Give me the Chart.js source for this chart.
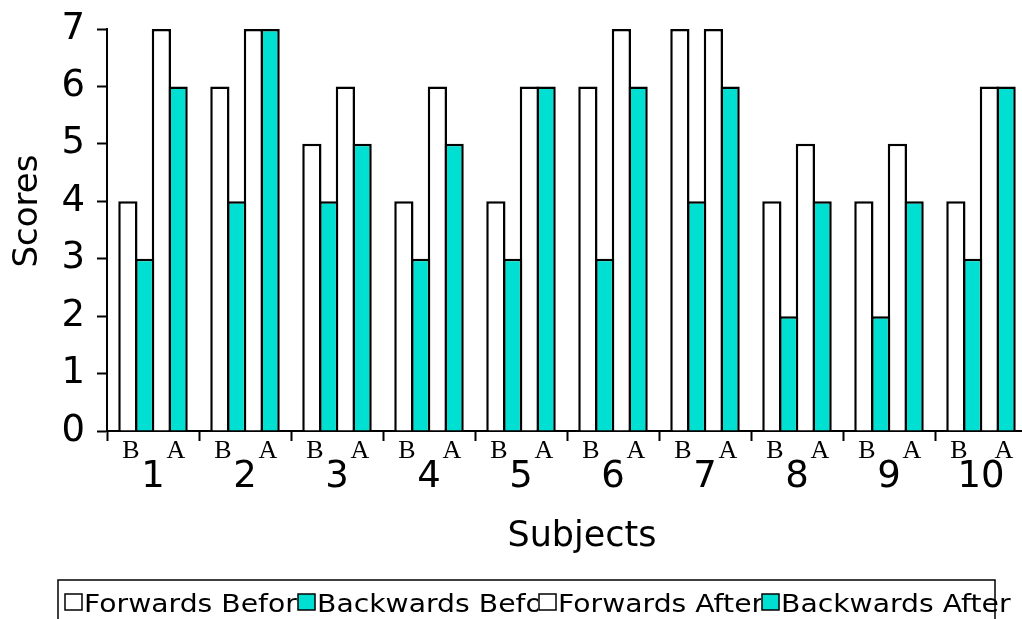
<!DOCTYPE html>
<html>
<head>
<meta charset="utf-8">
<script src="https://cdn.jsdelivr.net/npm/chart.js@4"></script>
<style>
  html, body { margin: 0; padding: 0; background: #fff; overflow: hidden; }
  #wrap { width: 1060px; height: 619px; }
</style>
</head>
<body>
<div id="wrap"><canvas id="scores" width="1060" height="619"></canvas></div>
<script>
// Digit-span scores per subject, before and after training
const subjects = ['1', '2', '3', '4', '5', '6', '7', '8', '9', '10'];
const forwardsBefore  = [4, 6, 5, 4, 4, 6, 7, 4, 4, 4];
const backwardsBefore = [3, 4, 4, 3, 3, 3, 4, 2, 2, 3];
const forwardsAfter   = [7, 7, 6, 6, 6, 7, 7, 5, 5, 6];
const backwardsAfter  = [6, 7, 5, 5, 6, 6, 6, 4, 4, 6];
const seriesNames = ['Forwards Before', 'Backwards Before', 'Forwards After', 'Backwards After'];
const phaseLabels = ['B', 'A'];
const scoreTicks = [0, 1, 2, 3, 4, 5, 6, 7];
const xTitle = 'Subjects';
const yTitle = 'Scores';

const TEAL = '#00e0d2';
const SANS = '"DejaVu Sans", "Noto Sans", sans-serif';
const SERIF = '"Liberation Serif", "DejaVu Serif", serif';

function series(label, data, fill) {
  return {
    label, data,
    backgroundColor: fill,
    borderColor: '#000',
    borderWidth: 2.5,
    borderSkipped: 'start',
    categoryPercentage: 0.728,
    barPercentage: 1.15
  };
}

// B / A markers under each subject, plus the two axis titles
const axisText = {
  id: 'axisText',
  afterDraw(chart) {
    const ctx = chart.ctx, x = chart.scales.x;
    ctx.save();
    ctx.fillStyle = '#000';
    ctx.textAlign = 'center';
    ctx.textBaseline = 'middle';
    ctx.font = '26px ' + SERIF;
    subjects.forEach((s, i) => {
      const cx = x.getPixelForValue(i);
      ctx.fillText(phaseLabels[0], cx - 22, x.top + 20);
      ctx.fillText(phaseLabels[1], cx + 23, x.top + 20);
    });
    ctx.font = '35px ' + SANS;
    ctx.fillText(xTitle, 582, 537);
    ctx.translate(28, 211);
    ctx.rotate(-Math.PI / 2);
    ctx.font = '34px ' + SANS;
    ctx.fillText(yTitle, 0, 0);
    ctx.restore();
  }
};

// Boxed legend row along the bottom edge
const boxedLegend = {
  id: 'boxedLegend',
  afterDraw(chart) {
    const ctx = chart.ctx;
    const starts = [64, 297, 538, 761];
    const frame = { left: 58, top: 580, right: 995 };
    const stretch = 1.13;
    ctx.save();
    ctx.font = '25px ' + SANS;
    ctx.textBaseline = 'alphabetic';
    ctx.textAlign = 'left';
    chart.data.datasets.forEach((ds, i) => {
      const x0 = starts[i];
      const clipRight = i < starts.length - 1 ? starts[i + 1] : chart.width;
      ctx.save();
      ctx.beginPath();
      ctx.rect(x0, frame.top + 2, clipRight - x0, 60);
      ctx.clip();
      ctx.fillStyle = '#000';
      ctx.translate(x0 + 20, 612);
      ctx.scale(stretch, 1);
      ctx.fillText(ds.label, 0, 0);
      ctx.restore();
      ctx.fillStyle = ds.backgroundColor;
      ctx.fillRect(x0 + 1, 594, 17, 16);
      ctx.strokeStyle = '#000';
      ctx.lineWidth = 1.5;
      ctx.strokeRect(x0 + 1, 594, 17, 16);
    });
    ctx.strokeStyle = '#000';
    ctx.lineWidth = 1.5;
    ctx.beginPath();
    ctx.moveTo(frame.left, 630);
    ctx.lineTo(frame.left, frame.top);
    ctx.lineTo(frame.right, frame.top);
    ctx.lineTo(frame.right, 630);
    ctx.stroke();
    ctx.restore();
  }
};

new Chart(document.getElementById('scores'), {
  type: 'bar',
  data: {
    labels: subjects,
    datasets: [
      series(seriesNames[0], forwardsBefore, '#ffffff'),
      series(seriesNames[1], backwardsBefore, TEAL),
      series(seriesNames[2], forwardsAfter, '#ffffff'),
      series(seriesNames[3], backwardsAfter, TEAL)
    ]
  },
  options: {
    responsive: false,
    animation: false,
    devicePixelRatio: 1,
    layout: { padding: { top: 29, right: 33, bottom: 0, left: 0 } },
    plugins: { legend: { display: false }, tooltip: { enabled: false } },
    scales: {
      x: {
        grid: { offset: true, drawOnChartArea: false, drawTicks: true, tickLength: 10, tickColor: '#000', tickWidth: 2 },
        border: { display: true, color: '#000', width: 2 },
        ticks: { color: '#000', font: { family: SANS, size: 37 }, padding: 14, maxRotation: 0, autoSkip: false },
        afterFit(scale) { scale.height = 188; }
      },
      y: {
        min: 0, max: 7,
        afterBuildTicks(scale) { scale.ticks = scoreTicks.map(v => ({ value: v })); },
        grid: { drawOnChartArea: false, drawTicks: true, tickLength: 10, tickColor: '#000', tickWidth: 2 },
        border: { display: true, color: '#000', width: 2 },
        ticks: { color: '#000', font: { family: SANS, size: 37 }, padding: 12 },
        afterFit(scale) { scale.width = 107; scale.paddingTop = 0; scale.paddingBottom = 0; }
      }
    }
  },
  plugins: [axisText, boxedLegend]
});
</script>
</body>
</html>
